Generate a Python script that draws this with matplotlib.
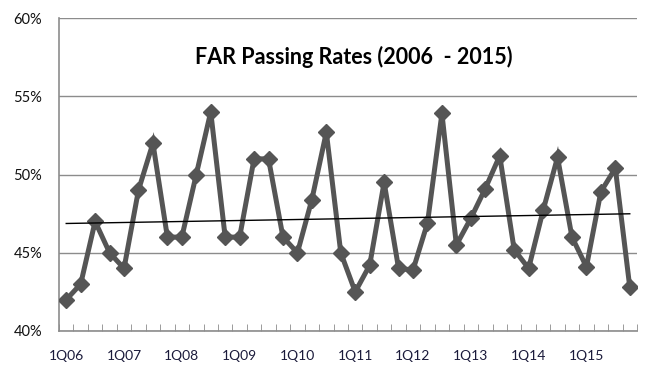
import numpy as np
import matplotlib
matplotlib.use("Agg")
import matplotlib.pyplot as plt
from matplotlib.ticker import FixedLocator, FuncFormatter

quarters = [f"{q}Q{y:02d}" for y in range(6, 16) for q in range(1, 5)]
rates = [42.0, 43.0, 47.0, 45.0,
         44.0, 49.0, 52.0, 46.0,
         46.0, 50.0, 54.0, 46.0,
         46.0, 51.0, 51.0, 46.0,
         45.0, 48.4, 52.7, 45.0,
         42.5, 44.2, 49.5, 44.0,
         43.9, 46.9, 53.9, 45.5,
         47.2, 49.1, 51.2, 45.2,
         44.0, 47.7, 51.1, 46.0,
         44.1, 48.9, 50.4, 42.8]
title = "FAR Passing Rates (2006  - 2015)"

plt.rcParams['font.family'] = ['Lato', 'DejaVu Sans']
fig = plt.figure(figsize=(6.5, 3.8), dpi=100)
ax = fig.add_axes([59/650, 1-331/380, (637-59)/650, (331-18)/380])

x = np.arange(len(rates))
ax.plot(x, rates, color='#555555', lw=3.6, marker='D', ms=8,
        markerfacecolor='#555555', markeredgecolor='#555555', zorder=3,
        solid_joinstyle='miter')
coef = np.polyfit(x, rates, 1)
ax.plot(x, np.polyval(coef, x), color='black', lw=1.0, zorder=4)

ax.set_xlim(-0.5, len(rates) - 0.5)
ax.set_ylim(40, 60)
ax.yaxis.set_major_locator(FixedLocator([40, 45, 50, 55, 60]))
ax.yaxis.set_major_formatter(FuncFormatter(lambda v, p: f"{v:.0f}%"))
ax.grid(axis='y', color='#8c8c8c', lw=1.0)
ax.set_axisbelow(True)
ax.tick_params(axis='y', length=0, pad=12, labelsize=10.5, colors='#111111')

ax.set_xticks(x[::4])
ax.set_xticklabels(quarters[::4])
ax.tick_params(axis='x', which='major', length=0, pad=14, labelsize=10, colors='#1a1a3a')
ax.set_xticks(np.arange(-0.5, len(rates)), minor=True)
ax.tick_params(axis='x', which='minor', length=5, direction='in', color='#8c8c8c')

for s in ['top', 'right']:
    ax.spines[s].set_visible(False)
for s in ['left', 'bottom']:
    ax.spines[s].set_color('#8c8c8c')
    ax.spines[s].set_linewidth(1.2)

ax.text((354-59)/578, 1-(57-18)/313, title, transform=ax.transAxes, ha='center', va='center',
        fontsize=15.5, fontweight='bold', color='black')

fig.savefig("out.png", dpi=100)
